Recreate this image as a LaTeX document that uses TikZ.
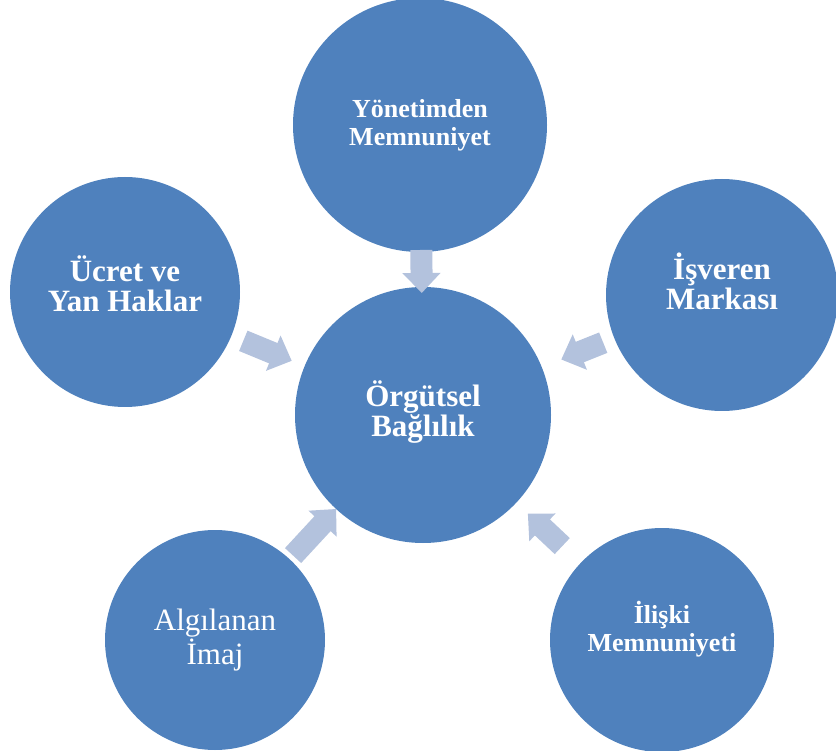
\documentclass[tikz,border=0pt]{standalone}
\usepackage{fontspec}
\setmainfont{Liberation Serif}
\usetikzlibrary{arrows.meta}

\definecolor{ballblue}{RGB}{79,129,189}
\definecolor{arrowblue}{RGB}{179,194,221}

\tikzset{
  ball/.style={circle, fill=ballblue, text=white, align=center, inner sep=0pt},
  bigtext/.style={font=\bfseries\fontsize{31}{30}\selectfont},
  smalltext/.style={font=\bfseries\fontsize{26}{28}\selectfont},
  blockarrow/.style={draw=arrowblue, line width=22pt,
    -{Triangle[width=37pt, length=20pt, fill=arrowblue]}}
}

\begin{document}
\begin{tikzpicture}[x=1pt, y=-1pt]
  \useasboundingbox (0,0) rectangle (836,751);

  % the five factors round the centre
  \node[ball, minimum size=256pt, bigtext, text depth=13pt] (org) at (423,415) {Örgütsel\\Bağlılık};
  \node[ball, minimum size=254pt, smalltext] (yon) at (420,125) {Yönetimden\\Memnuniyet};
  \node[ball, minimum size=230pt, bigtext, text depth=17pt] (ucret) at (125,292) {Ücret ve\\Yan Haklar};
  \node[ball, minimum size=232pt, bigtext, text depth=27pt] (isv) at (722,295) {İşveren\\Markası};
  \node[ball, minimum size=220pt, font=\fontsize{31}{31}\selectfont] (alg) at (215,640) {Algılanan\\İmaj};
  \node[ball, minimum size=224pt, smalltext, text depth=28pt] (iliski) at (662,640) {İlişki\\Memnuniyeti};

  % arrows into the centre
  \foreach \from/\s/\e in {yon/125/122, ucret/128/142, isv/128/149, alg/115/128, iliski/137/144} {
    \draw[blockarrow, shorten <=\s pt, shorten >=\e pt] (\from.center) -- (org.center);
  }
\end{tikzpicture}
\end{document}
